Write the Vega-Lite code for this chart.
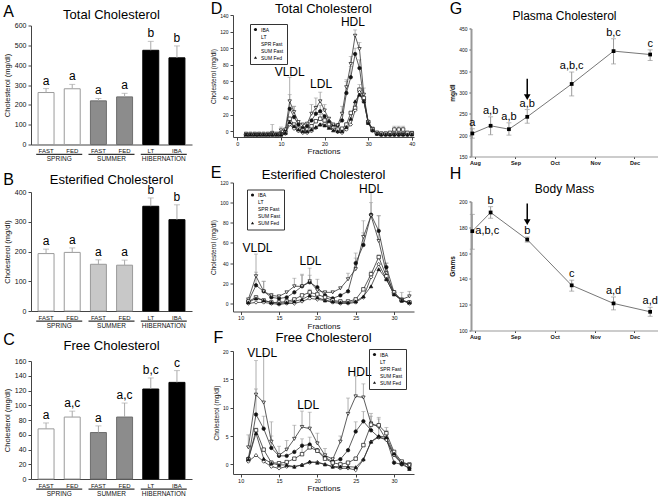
{
"$schema":"https://vega.github.io/schema/vega-lite/v6.json",
"padding":{"left":3,"top":0,"right":0,"bottom":0},
"config":{"font":"Liberation Sans","view":{"stroke":null},"title":{"fontWeight":"normal","color":"#000"},"text":{"color":"#000000"},
"axis":{"grid":false,"domainColor":"#444","tickColor":"#444","labelColor":"#111","titleColor":"#111","titleFontWeight":"normal","labelFontSize":7,"titleFontSize":7.5,"tickSize":3,"labelPadding":2,"titlePadding":3,"labelOverlap":false}},
"datasets":{
"A":[{"k":"SPRING-FAST","g":"SPRING","v":262,"h":282,"lab":"a"},{"k":"SPRING-FED","g":"SPRING","v":281,"h":303,"lab":"a"},{"k":"SUMMER-FAST","g":"SUMMER","v":220,"h":232,"lab":"a"},{"k":"SUMMER-FED","g":"SUMMER","v":240,"h":258,"lab":"a"},{"k":"HIBERNATION-LT","g":"HIBERNATION","v":475,"h":520,"lab":"b"},{"k":"HIBERNATION-IBA","g":"HIBERNATION","v":437,"h":497,"lab":"b"}],
"B":[{"k":"SPRING-FAST","g":"SPRING","v":193,"h":208,"lab":"a"},{"k":"SPRING-FED","g":"SPRING","v":197,"h":212,"lab":"a"},{"k":"SUMMER-FAST","g":"SUMMER","v":157,"h":172,"lab":"a"},{"k":"SUMMER-FED","g":"SUMMER","v":154,"h":171,"lab":"a"},{"k":"HIBERNATION-LT","g":"HIBERNATION","v":352,"h":380,"lab":"b"},{"k":"HIBERNATION-IBA","g":"HIBERNATION","v":307,"h":357,"lab":"b"}],
"C":[{"k":"SPRING-FAST","g":"SPRING","v":68,"h":76,"lab":"a"},{"k":"SPRING-FED","g":"SPRING","v":84,"h":92,"lab":"a,c"},{"k":"SUMMER-FAST","g":"SUMMER","v":63,"h":72,"lab":"a"},{"k":"SUMMER-FED","g":"SUMMER","v":84,"h":103,"lab":"a,c"},{"k":"HIBERNATION-LT","g":"HIBERNATION","v":122,"h":137,"lab":"b,c"},{"k":"HIBERNATION-IBA","g":"HIBERNATION","v":131,"h":147,"lab":"c"}],
"D":[
{"s":"IBA","f":2,"v":-4},{"s":"IBA","f":3,"v":-4},{"s":"IBA","f":4,"v":-4},{"s":"IBA","f":5,"v":-4},{"s":"IBA","f":6,"v":-4},{"s":"IBA","f":7,"v":-4},{"s":"IBA","f":8,"v":-3},{"s":"IBA","f":9,"v":-4},{"s":"IBA","f":10,"v":-3},{"s":"IBA","f":11,"v":0},{"s":"IBA","f":12,"v":27,"h":44},{"s":"IBA","f":13,"v":17,"h":30},{"s":"IBA","f":14,"v":8},{"s":"IBA","f":15,"v":4},{"s":"IBA","f":16,"v":6},{"s":"IBA","f":17,"v":13},{"s":"IBA","f":18,"v":21,"h":30},{"s":"IBA","f":19,"v":24,"h":31},{"s":"IBA","f":20,"v":18},{"s":"IBA","f":21,"v":11},{"s":"IBA","f":22,"v":6},{"s":"IBA","f":23,"v":7},{"s":"IBA","f":24,"v":13},{"s":"IBA","f":25,"v":46,"h":60},{"s":"IBA","f":26,"v":65,"h":78},{"s":"IBA","f":27,"v":93,"h":100},{"s":"IBA","f":28,"v":76,"h":86},{"s":"IBA","f":29,"v":38,"h":45},{"s":"IBA","f":30,"v":11},{"s":"IBA","f":31,"v":2},{"s":"IBA","f":32,"v":-3},{"s":"IBA","f":33,"v":-4},{"s":"IBA","f":34,"v":-4},{"s":"IBA","f":35,"v":-4},{"s":"IBA","f":36,"v":-4},{"s":"IBA","f":37,"v":-4},{"s":"IBA","f":38,"v":-4},{"s":"IBA","f":39,"v":-4},{"s":"IBA","f":40,"v":-3},
{"s":"LT","f":2,"v":-3},{"s":"LT","f":3,"v":-3},{"s":"LT","f":4,"v":-3},{"s":"LT","f":5,"v":-3},{"s":"LT","f":6,"v":-3},{"s":"LT","f":7,"v":-3},{"s":"LT","f":8,"v":-2,"h":8},{"s":"LT","f":9,"v":-3},{"s":"LT","f":10,"v":1,"h":5},{"s":"LT","f":11,"v":2},{"s":"LT","f":12,"v":36,"h":65},{"s":"LT","f":13,"v":23,"h":30},{"s":"LT","f":14,"v":11},{"s":"LT","f":15,"v":8},{"s":"LT","f":16,"v":9},{"s":"LT","f":17,"v":21,"h":32},{"s":"LT","f":18,"v":28,"h":40},{"s":"LT","f":19,"v":36,"h":47},{"s":"LT","f":20,"v":25,"h":32},{"s":"LT","f":21,"v":15},{"s":"LT","f":22,"v":8},{"s":"LT","f":23,"v":7},{"s":"LT","f":24,"v":21,"h":30},{"s":"LT","f":25,"v":53,"h":62},{"s":"LT","f":26,"v":81,"h":90},{"s":"LT","f":27,"v":115,"h":122},{"s":"LT","f":28,"v":99,"h":107},{"s":"LT","f":29,"v":44,"h":52},{"s":"LT","f":30,"v":11},{"s":"LT","f":31,"v":3},{"s":"LT","f":32,"v":-2},{"s":"LT","f":33,"v":-3},{"s":"LT","f":34,"v":-3},{"s":"LT","f":35,"v":-3},{"s":"LT","f":36,"v":-3},{"s":"LT","f":37,"v":-3},{"s":"LT","f":38,"v":-3},{"s":"LT","f":39,"v":-3},{"s":"LT","f":40,"v":-2},
{"s":"SPR Fast","f":2,"v":-5},{"s":"SPR Fast","f":3,"v":-5},{"s":"SPR Fast","f":4,"v":-5},{"s":"SPR Fast","f":5,"v":-5},{"s":"SPR Fast","f":6,"v":-5},{"s":"SPR Fast","f":7,"v":-5},{"s":"SPR Fast","f":8,"v":-4},{"s":"SPR Fast","f":9,"v":-5},{"s":"SPR Fast","f":10,"v":-4},{"s":"SPR Fast","f":11,"v":-2},{"s":"SPR Fast","f":12,"v":15},{"s":"SPR Fast","f":13,"v":8},{"s":"SPR Fast","f":14,"v":3},{"s":"SPR Fast","f":15,"v":1},{"s":"SPR Fast","f":16,"v":2},{"s":"SPR Fast","f":17,"v":6},{"s":"SPR Fast","f":18,"v":12},{"s":"SPR Fast","f":19,"v":15,"h":20},{"s":"SPR Fast","f":20,"v":13},{"s":"SPR Fast","f":21,"v":8},{"s":"SPR Fast","f":22,"v":4},{"s":"SPR Fast","f":23,"v":2},{"s":"SPR Fast","f":24,"v":3},{"s":"SPR Fast","f":25,"v":8},{"s":"SPR Fast","f":26,"v":22},{"s":"SPR Fast","f":27,"v":28},{"s":"SPR Fast","f":28,"v":50,"h":56},{"s":"SPR Fast","f":29,"v":40},{"s":"SPR Fast","f":30,"v":11},{"s":"SPR Fast","f":31,"v":2},{"s":"SPR Fast","f":32,"v":-2},{"s":"SPR Fast","f":33,"v":-3},{"s":"SPR Fast","f":34,"v":-3},{"s":"SPR Fast","f":35,"v":-2},{"s":"SPR Fast","f":36,"v":2,"h":6},{"s":"SPR Fast","f":37,"v":2,"h":6},{"s":"SPR Fast","f":38,"v":2,"h":6},{"s":"SPR Fast","f":39,"v":-2},{"s":"SPR Fast","f":40,"v":-3},
{"s":"SUM Fast","f":2,"v":-4},{"s":"SUM Fast","f":3,"v":-4},{"s":"SUM Fast","f":4,"v":-4},{"s":"SUM Fast","f":5,"v":-4},{"s":"SUM Fast","f":6,"v":-4},{"s":"SUM Fast","f":7,"v":-4},{"s":"SUM Fast","f":8,"v":-4},{"s":"SUM Fast","f":9,"v":-4},{"s":"SUM Fast","f":10,"v":-4},{"s":"SUM Fast","f":11,"v":-3},{"s":"SUM Fast","f":12,"v":8},{"s":"SUM Fast","f":13,"v":3},{"s":"SUM Fast","f":14,"v":0},{"s":"SUM Fast","f":15,"v":-2},{"s":"SUM Fast","f":16,"v":-2},{"s":"SUM Fast","f":17,"v":0},{"s":"SUM Fast","f":18,"v":4},{"s":"SUM Fast","f":19,"v":8},{"s":"SUM Fast","f":20,"v":9},{"s":"SUM Fast","f":21,"v":5},{"s":"SUM Fast","f":22,"v":2},{"s":"SUM Fast","f":23,"v":-1},{"s":"SUM Fast","f":24,"v":-2},{"s":"SUM Fast","f":25,"v":2},{"s":"SUM Fast","f":26,"v":8},{"s":"SUM Fast","f":27,"v":25},{"s":"SUM Fast","f":28,"v":47,"h":52},{"s":"SUM Fast","f":29,"v":36},{"s":"SUM Fast","f":30,"v":10},{"s":"SUM Fast","f":31,"v":1},{"s":"SUM Fast","f":32,"v":-3},{"s":"SUM Fast","f":33,"v":-4},{"s":"SUM Fast","f":34,"v":-4},{"s":"SUM Fast","f":35,"v":-4},{"s":"SUM Fast","f":36,"v":-4},{"s":"SUM Fast","f":37,"v":-4},{"s":"SUM Fast","f":38,"v":-4},{"s":"SUM Fast","f":39,"v":-4},{"s":"SUM Fast","f":40,"v":-4},
{"s":"SUM Fed","f":2,"v":-4},{"s":"SUM Fed","f":3,"v":-4},{"s":"SUM Fed","f":4,"v":-4},{"s":"SUM Fed","f":5,"v":-4},{"s":"SUM Fed","f":6,"v":-4},{"s":"SUM Fed","f":7,"v":-4},{"s":"SUM Fed","f":8,"v":-4},{"s":"SUM Fed","f":9,"v":-4},{"s":"SUM Fed","f":10,"v":-4},{"s":"SUM Fed","f":11,"v":-2},{"s":"SUM Fed","f":12,"v":11},{"s":"SUM Fed","f":13,"v":6},{"s":"SUM Fed","f":14,"v":2},{"s":"SUM Fed","f":15,"v":0},{"s":"SUM Fed","f":16,"v":0},{"s":"SUM Fed","f":17,"v":2},{"s":"SUM Fed","f":18,"v":5},{"s":"SUM Fed","f":19,"v":8},{"s":"SUM Fed","f":20,"v":7},{"s":"SUM Fed","f":21,"v":4},{"s":"SUM Fed","f":22,"v":1},{"s":"SUM Fed","f":23,"v":0},{"s":"SUM Fed","f":24,"v":0},{"s":"SUM Fed","f":25,"v":5},{"s":"SUM Fed","f":26,"v":15},{"s":"SUM Fed","f":27,"v":36},{"s":"SUM Fed","f":28,"v":44,"h":49},{"s":"SUM Fed","f":29,"v":36},{"s":"SUM Fed","f":30,"v":10},{"s":"SUM Fed","f":31,"v":1},{"s":"SUM Fed","f":32,"v":-3},{"s":"SUM Fed","f":33,"v":-4},{"s":"SUM Fed","f":34,"v":-4},{"s":"SUM Fed","f":35,"v":-4},{"s":"SUM Fed","f":36,"v":-4},{"s":"SUM Fed","f":37,"v":-4},{"s":"SUM Fed","f":38,"v":-4},{"s":"SUM Fed","f":39,"v":-4},{"s":"SUM Fed","f":40,"v":-4}],
"E":[
{"s":"IBA","f":11,"v":2},{"s":"IBA","f":12,"v":18,"h":31},{"s":"IBA","f":13,"v":12,"h":22},{"s":"IBA","f":14,"v":6},{"s":"IBA","f":15,"v":5},{"s":"IBA","f":16,"v":6},{"s":"IBA","f":17,"v":11},{"s":"IBA","f":18,"v":17,"h":28},{"s":"IBA","f":19,"v":21,"h":35},{"s":"IBA","f":20,"v":16},{"s":"IBA","f":21,"v":8},{"s":"IBA","f":22,"v":5},{"s":"IBA","f":23,"v":8},{"s":"IBA","f":24,"v":12},{"s":"IBA","f":25,"v":40,"h":50},{"s":"IBA","f":26,"v":58,"h":70},{"s":"IBA","f":27,"v":88,"h":100},{"s":"IBA","f":28,"v":72,"h":87},{"s":"IBA","f":29,"v":36,"h":40},{"s":"IBA","f":30,"v":11},{"s":"IBA","f":31,"v":3},{"s":"IBA","f":32,"v":1},
{"s":"LT","f":11,"v":4},{"s":"LT","f":12,"v":27,"h":49},{"s":"LT","f":13,"v":12,"h":22},{"s":"LT","f":14,"v":8,"h":10},{"s":"LT","f":15,"v":7},{"s":"LT","f":16,"v":11},{"s":"LT","f":17,"v":17,"h":25},{"s":"LT","f":18,"v":17,"h":29},{"s":"LT","f":19,"v":22,"h":28},{"s":"LT","f":20,"v":13,"h":24},{"s":"LT","f":21,"v":11},{"s":"LT","f":22,"v":11},{"s":"LT","f":23,"v":15},{"s":"LT","f":24,"v":24,"h":30},{"s":"LT","f":25,"v":34,"h":45},{"s":"LT","f":26,"v":66,"h":82},{"s":"LT","f":27,"v":87,"h":111},{"s":"LT","f":28,"v":62,"h":87},{"s":"LT","f":29,"v":30,"h":40},{"s":"LT","f":30,"v":9},{"s":"LT","f":31,"v":4,"h":11},{"s":"LT","f":32,"v":7,"h":12},
{"s":"SPR Fast","f":11,"v":2},{"s":"SPR Fast","f":12,"v":6},{"s":"SPR Fast","f":13,"v":3},{"s":"SPR Fast","f":14,"v":1},{"s":"SPR Fast","f":15,"v":1},{"s":"SPR Fast","f":16,"v":2},{"s":"SPR Fast","f":17,"v":4},{"s":"SPR Fast","f":18,"v":8},{"s":"SPR Fast","f":19,"v":11,"h":14},{"s":"SPR Fast","f":20,"v":9},{"s":"SPR Fast","f":21,"v":6},{"s":"SPR Fast","f":22,"v":3},{"s":"SPR Fast","f":23,"v":2},{"s":"SPR Fast","f":24,"v":2},{"s":"SPR Fast","f":25,"v":4},{"s":"SPR Fast","f":26,"v":14},{"s":"SPR Fast","f":27,"v":29,"h":32},{"s":"SPR Fast","f":28,"v":46,"h":48},{"s":"SPR Fast","f":29,"v":27},{"s":"SPR Fast","f":30,"v":11},{"s":"SPR Fast","f":31,"v":3},{"s":"SPR Fast","f":32,"v":1},
{"s":"SUM Fast","f":11,"v":0},{"s":"SUM Fast","f":12,"v":1},{"s":"SUM Fast","f":13,"v":1},{"s":"SUM Fast","f":14,"v":0},{"s":"SUM Fast","f":15,"v":-1},{"s":"SUM Fast","f":16,"v":0},{"s":"SUM Fast","f":17,"v":0},{"s":"SUM Fast","f":18,"v":2},{"s":"SUM Fast","f":19,"v":5},{"s":"SUM Fast","f":20,"v":4},{"s":"SUM Fast","f":21,"v":3},{"s":"SUM Fast","f":22,"v":1},{"s":"SUM Fast","f":23,"v":0},{"s":"SUM Fast","f":24,"v":0},{"s":"SUM Fast","f":25,"v":1},{"s":"SUM Fast","f":26,"v":6},{"s":"SUM Fast","f":27,"v":26},{"s":"SUM Fast","f":28,"v":39},{"s":"SUM Fast","f":29,"v":24},{"s":"SUM Fast","f":30,"v":9},{"s":"SUM Fast","f":31,"v":3},{"s":"SUM Fast","f":32,"v":0},
{"s":"SUM Fed","f":11,"v":1},{"s":"SUM Fed","f":12,"v":5},{"s":"SUM Fed","f":13,"v":3},{"s":"SUM Fed","f":14,"v":1},{"s":"SUM Fed","f":15,"v":0},{"s":"SUM Fed","f":16,"v":1},{"s":"SUM Fed","f":17,"v":2},{"s":"SUM Fed","f":18,"v":4},{"s":"SUM Fed","f":19,"v":8},{"s":"SUM Fed","f":20,"v":6},{"s":"SUM Fed","f":21,"v":3},{"s":"SUM Fed","f":22,"v":2},{"s":"SUM Fed","f":23,"v":1},{"s":"SUM Fed","f":24,"v":1},{"s":"SUM Fed","f":25,"v":2},{"s":"SUM Fed","f":26,"v":7},{"s":"SUM Fed","f":27,"v":17},{"s":"SUM Fed","f":28,"v":34},{"s":"SUM Fed","f":29,"v":24},{"s":"SUM Fed","f":30,"v":9},{"s":"SUM Fed","f":31,"v":3},{"s":"SUM Fed","f":32,"v":1}],
"F":[
{"s":"IBA","f":11,"v":1},{"s":"IBA","f":12,"v":8.8,"h":13.3},{"s":"IBA","f":13,"v":6.3,"h":8.5},{"s":"IBA","f":14,"v":2.9,"h":5},{"s":"IBA","f":15,"v":1.5},{"s":"IBA","f":16,"v":1.5},{"s":"IBA","f":17,"v":2.2},{"s":"IBA","f":18,"v":3.3},{"s":"IBA","f":19,"v":3.5},{"s":"IBA","f":20,"v":2.5},{"s":"IBA","f":21,"v":1.2},{"s":"IBA","f":22,"v":0.5},{"s":"IBA","f":23,"v":0.9},{"s":"IBA","f":24,"v":2.5},{"s":"IBA","f":25,"v":5.8,"h":7.5},{"s":"IBA","f":26,"v":7.6,"h":9.3},{"s":"IBA","f":27,"v":6,"h":7.5},{"s":"IBA","f":28,"v":4.8,"h":7},{"s":"IBA","f":29,"v":4.5},{"s":"IBA","f":30,"v":0.3},{"s":"IBA","f":31,"v":0},{"s":"IBA","f":32,"v":-0.7},
{"s":"LT","f":11,"v":3,"h":5.2},{"s":"LT","f":12,"v":12.3,"h":18.3},{"s":"LT","f":13,"v":10.9,"h":19.5},{"s":"LT","f":14,"v":4,"h":7.5},{"s":"LT","f":15,"v":1.6,"h":3.2},{"s":"LT","f":16,"v":2.6,"h":4.2},{"s":"LT","f":17,"v":4.5,"h":6.9},{"s":"LT","f":18,"v":6.6,"h":9.4},{"s":"LT","f":19,"v":6.3,"h":9.2},{"s":"LT","f":20,"v":3.7,"h":5.5},{"s":"LT","f":21,"v":1.6,"h":2.8},{"s":"LT","f":22,"v":0.9},{"s":"LT","f":23,"v":4,"h":5},{"s":"LT","f":24,"v":8.9,"h":11.7},{"s":"LT","f":25,"v":12,"h":15.5},{"s":"LT","f":26,"v":11.8,"h":14.2},{"s":"LT","f":27,"v":7.2,"h":9},{"s":"LT","f":28,"v":6.6,"h":8.3},{"s":"LT","f":29,"v":4.3,"h":6.5},{"s":"LT","f":30,"v":1.6},{"s":"LT","f":31,"v":0.2},{"s":"LT","f":32,"v":0},
{"s":"SPR Fast","f":11,"v":0.9},{"s":"SPR Fast","f":12,"v":6,"h":6.4},{"s":"SPR Fast","f":13,"v":2.6},{"s":"SPR Fast","f":14,"v":0.3},{"s":"SPR Fast","f":15,"v":0.2},{"s":"SPR Fast","f":16,"v":0.4},{"s":"SPR Fast","f":17,"v":1},{"s":"SPR Fast","f":18,"v":1.8,"h":4.5},{"s":"SPR Fast","f":19,"v":3,"h":4.8},{"s":"SPR Fast","f":20,"v":2.4},{"s":"SPR Fast","f":21,"v":1},{"s":"SPR Fast","f":22,"v":0.3},{"s":"SPR Fast","f":23,"v":0},{"s":"SPR Fast","f":24,"v":0.3},{"s":"SPR Fast","f":25,"v":1},{"s":"SPR Fast","f":26,"v":3.4},{"s":"SPR Fast","f":27,"v":7,"h":8.5},{"s":"SPR Fast","f":28,"v":6.9,"h":8},{"s":"SPR Fast","f":29,"v":5.5,"h":6},{"s":"SPR Fast","f":30,"v":2.2},{"s":"SPR Fast","f":31,"v":0.5},{"s":"SPR Fast","f":32,"v":-0.1},
{"s":"SUM Fast","f":11,"v":0.5},{"s":"SUM Fast","f":12,"v":1.6},{"s":"SUM Fast","f":13,"v":0.5},{"s":"SUM Fast","f":14,"v":-0.4},{"s":"SUM Fast","f":15,"v":-0.7},{"s":"SUM Fast","f":16,"v":-0.4},{"s":"SUM Fast","f":17,"v":-0.4},{"s":"SUM Fast","f":18,"v":-0.1},{"s":"SUM Fast","f":19,"v":0.3},{"s":"SUM Fast","f":20,"v":0.4},{"s":"SUM Fast","f":21,"v":0},{"s":"SUM Fast","f":22,"v":-0.4},{"s":"SUM Fast","f":23,"v":-0.7},{"s":"SUM Fast","f":24,"v":-0.7},{"s":"SUM Fast","f":25,"v":-1},{"s":"SUM Fast","f":26,"v":0.8},{"s":"SUM Fast","f":27,"v":4},{"s":"SUM Fast","f":28,"v":4.8},{"s":"SUM Fast","f":29,"v":4.3},{"s":"SUM Fast","f":30,"v":1.6},{"s":"SUM Fast","f":31,"v":0.2},{"s":"SUM Fast","f":32,"v":-0.1},
{"s":"SUM Fed","f":11,"v":0.9},{"s":"SUM Fed","f":12,"v":5.5,"h":6.3},{"s":"SUM Fed","f":13,"v":1},{"s":"SUM Fed","f":14,"v":0.2},{"s":"SUM Fed","f":15,"v":-0.1},{"s":"SUM Fed","f":16,"v":-0.1},{"s":"SUM Fed","f":17,"v":-0.4},{"s":"SUM Fed","f":18,"v":-0.1},{"s":"SUM Fed","f":19,"v":0.5},{"s":"SUM Fed","f":20,"v":0.3},{"s":"SUM Fed","f":21,"v":0},{"s":"SUM Fed","f":22,"v":-0.4},{"s":"SUM Fed","f":23,"v":-0.4},{"s":"SUM Fed","f":24,"v":-0.4},{"s":"SUM Fed","f":25,"v":-0.5},{"s":"SUM Fed","f":26,"v":0.9},{"s":"SUM Fed","f":27,"v":4},{"s":"SUM Fed","f":28,"v":5},{"s":"SUM Fed","f":29,"v":4.8},{"s":"SUM Fed","f":30,"v":1.9},{"s":"SUM Fed","f":31,"v":0.3},{"s":"SUM Fed","f":32,"v":-0.8}],
"G":[{"d":"2009-07-30","v":204,"lo":193,"hi":215,"lab":"a"},{"d":"2009-08-13","v":222,"lo":201,"hi":243,"lab":"a,b"},{"d":"2009-08-27","v":214,"lo":200,"hi":229,"lab":"a,b"},{"d":"2009-09-10","v":243,"lo":228,"hi":260,"lab":"a,b"},{"d":"2009-10-14","v":320,"lo":292,"hi":348,"lab":"a,b,c"},{"d":"2009-11-15","v":397,"lo":367,"hi":426,"lab":"b,c"},{"d":"2009-12-13","v":389,"lo":375,"hi":400,"lab":"c"}],
"H":[{"d":"2009-07-30","v":177,"lo":163,"hi":190,"lab":"a,b,c"},{"d":"2009-08-13","v":191.5,"lo":187,"hi":196,"lab":"b"},{"d":"2009-09-10","v":170.5,"lo":168.5,"hi":172.5,"lab":"b"},{"d":"2009-10-14","v":135,"lo":130.5,"hi":139,"lab":"c"},{"d":"2009-11-15","v":121,"lo":116,"hi":126,"lab":"a,d"},{"d":"2009-12-13","v":114.5,"lo":111,"hi":118,"lab":"a,d"}]
},
"resolve":{"scale":{"fill":"independent","stroke":"independent","shape":"independent"},"legend":{"fill":"independent","shape":"independent"}},
"spacing":34,
"hconcat":[
{"spacing":18,
 "resolve":{"scale":{"fill":"independent","stroke":"independent","shape":"independent"},"legend":{"fill":"independent","shape":"independent"}},
 "hconcat":[
 {"spacing":-12.5,
  "resolve":{"scale":{"fill":"independent","stroke":"independent"}},
  "vconcat":[
  {"width":161,"height":1,"data":{"values":[{"z":0}]},"mark":{"type":"point","opacity":0,"size":0},"encoding":{}},
  {"spacing":2.5,
   "resolve":{"scale":{"fill":"independent","stroke":"independent"}},
   "vconcat":[
   {"spacing":8.5,
    "resolve":{"scale":{"fill":"independent","stroke":"independent"}},
    "vconcat":[
  {"title":{"text":"A","anchor":"start","fontSize":16,"offset":-11,"frame":"bounds"},
   "vconcat":[{"width":161,"height":119,
    "title":{"text":"Total Cholesterol","fontSize":13,"offset":0},
    "resolve":{"scale":{"x":"independent"},"axis":{"x":"independent"}},
    "layer":[
     {"data":{"name":"A"},
      "encoding":{"x":{"field":"k","type":"nominal","sort":null,"scale":{"paddingInner":0.39,"paddingOuter":0.27},"axis":{"title":null,"labelExpr":"split(datum.value,'-')[1]","labelAngle":0,"ticks":false,"labelFontSize":6,"labelPadding":3}},
                  "y":{"field":"v","type":"quantitative","title":"Cholesterol (mg/dl)","scale":{"domain":[0,600],"nice":false},"axis":{"values":[0,100,200,300,400,500,600],"labelOverlap":false}}},
      "layer":[
       {"mark":{"type":"bar","strokeWidth":1},"encoding":{"fill":{"field":"g","type":"nominal","scale":{"domain":["SPRING","SUMMER","HIBERNATION"],"range":["#ffffff","#8c8c8c","#000000"]},"legend":null},"stroke":{"field":"g","type":"nominal","scale":{"domain":["SPRING","SUMMER","HIBERNATION"],"range":["#9a9a9a","#6e6e6e","#000000"]},"legend":null}}},
       {"mark":{"type":"rule","color":"#aaaaaa"},"encoding":{"y2":{"field":"h"}}},
       {"mark":{"type":"tick","orient":"horizontal","color":"#aaaaaa","size":6,"thickness":1},"encoding":{"y":{"field":"h","type":"quantitative","title":"Cholesterol (mg/dl)"}}},
       {"mark":{"type":"text","fontSize":12,"baseline":"bottom","dy":-1,"color":"#000000"},"encoding":{"y":{"field":"h","type":"quantitative","title":"Cholesterol (mg/dl)"},"text":{"field":"lab"}}}
      ]},
     {"data":{"values":[{"g":"SPRING"},{"g":"SUMMER"},{"g":"HIBERNATION"}]},
      "mark":{"type":"bar","color":"#333333"},
      "encoding":{"x":{"field":"g","type":"nominal","sort":null,"scale":{"paddingInner":0.12,"paddingOuter":0.1},"axis":{"orient":"bottom","title":null,"domain":false,"ticks":false,"labelAngle":0,"offset":9,"labelPadding":2,"labelFontSize":6.5,"labelColor":"#111111"}},
                  "y":{"datum":-47,"title":"Cholesterol (mg/dl)","scale":{"domain":[0,600],"nice":false},"axis":{"values":[0,100,200,300,400,500,600],"labelOverlap":false}},"y2":{"datum":-53}}}
    ]}]},
  {"title":{"text":"B","anchor":"start","fontSize":16,"offset":-14,"frame":"bounds"},
   "vconcat":[{"width":161,"height":119,
    "title":{"text":"Esterified Cholesterol","fontSize":13,"offset":-3},
    "resolve":{"scale":{"x":"independent"},"axis":{"x":"independent"}},
    "layer":[
     {"data":{"name":"B"},
      "encoding":{"x":{"field":"k","type":"nominal","sort":null,"scale":{"paddingInner":0.39,"paddingOuter":0.27},"axis":{"title":null,"labelExpr":"split(datum.value,'-')[1]","labelAngle":0,"ticks":false,"labelFontSize":6,"labelPadding":3}},
                  "y":{"field":"v","type":"quantitative","title":"Cholesterol (mg/dl)","scale":{"domain":[0,400],"nice":false},"axis":{"values":[0,100,200,300,400],"labelOverlap":false}}},
      "layer":[
       {"mark":{"type":"bar","strokeWidth":1},"encoding":{"fill":{"field":"g","type":"nominal","scale":{"domain":["SPRING","SUMMER","HIBERNATION"],"range":["#ffffff","#c8c8c8","#000000"]},"legend":null},"stroke":{"field":"g","type":"nominal","scale":{"domain":["SPRING","SUMMER","HIBERNATION"],"range":["#9a9a9a","#9a9a9a","#000000"]},"legend":null}}},
       {"mark":{"type":"rule","color":"#aaaaaa"},"encoding":{"y2":{"field":"h"}}},
       {"mark":{"type":"tick","orient":"horizontal","color":"#aaaaaa","size":6,"thickness":1},"encoding":{"y":{"field":"h","type":"quantitative","title":"Cholesterol (mg/dl)"}}},
       {"mark":{"type":"text","fontSize":12,"baseline":"bottom","dy":-1,"color":"#000000"},"encoding":{"y":{"field":"h","type":"quantitative","title":"Cholesterol (mg/dl)"},"text":{"field":"lab"}}}
      ]},
     {"data":{"values":[{"g":"SPRING"},{"g":"SUMMER"},{"g":"HIBERNATION"}]},
      "mark":{"type":"bar","color":"#333333"},
      "encoding":{"x":{"field":"g","type":"nominal","sort":null,"scale":{"paddingInner":0.12,"paddingOuter":0.1},"axis":{"orient":"bottom","title":null,"domain":false,"ticks":false,"labelAngle":0,"offset":9,"labelPadding":2,"labelFontSize":6.5,"labelColor":"#111111"}},
                  "y":{"datum":-32,"title":"Cholesterol (mg/dl)","scale":{"domain":[0,400],"nice":false},"axis":{"values":[0,100,200,300,400],"labelOverlap":false}},"y2":{"datum":-36}}}
    ]}]}
    ]},
  {"title":{"text":"C","anchor":"start","fontSize":16,"offset":-8,"frame":"bounds"},
   "vconcat":[{"width":161,"height":118,
    "title":{"text":"Free Cholesterol","fontSize":13,"offset":4},
    "resolve":{"scale":{"x":"independent"},"axis":{"x":"independent"}},
    "layer":[
     {"data":{"name":"C"},
      "encoding":{"x":{"field":"k","type":"nominal","sort":null,"scale":{"paddingInner":0.39,"paddingOuter":0.27},"axis":{"title":null,"labelExpr":"split(datum.value,'-')[1]","labelAngle":0,"ticks":false,"labelFontSize":6,"labelPadding":3}},
                  "y":{"field":"v","type":"quantitative","title":"Cholesterol (mg/dl)","scale":{"domain":[0,160],"nice":false},"axis":{"values":[0,20,40,60,80,100,120,140,160],"labelOverlap":false}}},
      "layer":[
       {"mark":{"type":"bar","strokeWidth":1},"encoding":{"fill":{"field":"g","type":"nominal","scale":{"domain":["SPRING","SUMMER","HIBERNATION"],"range":["#ffffff","#8c8c8c","#000000"]},"legend":null},"stroke":{"field":"g","type":"nominal","scale":{"domain":["SPRING","SUMMER","HIBERNATION"],"range":["#9a9a9a","#6e6e6e","#000000"]},"legend":null}}},
       {"mark":{"type":"rule","color":"#aaaaaa"},"encoding":{"y2":{"field":"h"}}},
       {"mark":{"type":"tick","orient":"horizontal","color":"#aaaaaa","size":6,"thickness":1},"encoding":{"y":{"field":"h","type":"quantitative","title":"Cholesterol (mg/dl)"}}},
       {"mark":{"type":"text","fontSize":12,"baseline":"bottom","dy":-1,"color":"#000000"},"encoding":{"y":{"field":"h","type":"quantitative","title":"Cholesterol (mg/dl)"},"text":{"field":"lab"}}}
      ]},
     {"data":{"values":[{"g":"SPRING"},{"g":"SUMMER"},{"g":"HIBERNATION"}]},
      "mark":{"type":"bar","color":"#333333"},
      "encoding":{"x":{"field":"g","type":"nominal","sort":null,"scale":{"paddingInner":0.12,"paddingOuter":0.1},"axis":{"orient":"bottom","title":null,"domain":false,"ticks":false,"labelAngle":0,"offset":9,"labelPadding":2,"labelFontSize":6.5,"labelColor":"#111111"}},
                  "y":{"datum":-13,"title":"Cholesterol (mg/dl)","scale":{"domain":[0,160],"nice":false},"axis":{"values":[0,20,40,60,80,100,120,140,160],"labelOverlap":false}},"y2":{"datum":-14.6}}}
    ]}]}
   ]}
  ]},
 {"spacing":0,
  "resolve":{"scale":{"fill":"independent","shape":"independent"},"legend":{"fill":"independent","shape":"independent"}},
  "vconcat":[
  {"spacing":8.5,
   "resolve":{"scale":{"fill":"independent","shape":"independent"},"legend":{"fill":"independent","shape":"independent"}},
   "vconcat":[
  {"title":{"text":"D","anchor":"start","fontSize":16,"offset":-14,"frame":"bounds"},
   "vconcat":[{"width":181,"height":122,
    "title":{"text":"Total Cholesterol","fontSize":13,"offset":-2.5},
    "data":{"name":"D"},
    "encoding":{"x":{"field":"f","type":"quantitative","scale":{"domain":[-1,40.5],"nice":false,"zero":false},"axis":{"values":[0,10,20,30,40],"title":"Fractions","labelFontSize":5.5,"titleFontSize":8,"titlePadding":1,"labelPadding":1}},
                "y":{"field":"v","type":"quantitative","title":"Cholesterol (mg/dl)","scale":{"domain":[-7,140],"nice":false,"zero":false},"axis":{"values":[0,20,40,60,80,100,120,140],"labelFontSize":5,"titleFontSize":6.5}}},
    "layer":[
     {"transform":[{"filter":"isValid(datum.h)"}],"mark":{"type":"rule","color":"#999999","strokeWidth":0.8},"encoding":{"y2":{"field":"h"}}},
     {"transform":[{"filter":"isValid(datum.h)"}],"mark":{"type":"tick","orient":"horizontal","color":"#999999","size":4,"thickness":0.8},"encoding":{"y":{"field":"h","type":"quantitative","title":"Cholesterol (mg/dl)"}}},
     {"mark":{"type":"line","color":"#333333","strokeWidth":0.8},"encoding":{"detail":{"field":"s","type":"nominal"}}},
     {"mark":{"type":"point","filled":true,"stroke":"#111111","strokeWidth":0.7,"size":12,"opacity":1},
      "encoding":{"shape":{"field":"s","type":"nominal","scale":{"domain":["IBA","LT","SPR Fast","SUM Fast","SUM Fed"],"range":["circle","triangle-down","square","diamond","triangle-up"]},"legend":{"title":null,"orient":"none","legendX":17,"legendY":9,"strokeColor":"#333333","padding":3,"labelFontSize":5,"symbolSize":10,"rowPadding":0,"symbolStrokeColor":"#111111","symbolStrokeWidth":0.7,"labelOffset":3}},
                  "fill":{"field":"s","type":"nominal","scale":{"domain":["IBA","LT","SPR Fast","SUM Fast","SUM Fed"],"range":["#111111","#ffffff","#ffffff","#ffffff","#111111"]},"legend":{"title":null,"orient":"none","legendX":17,"legendY":9,"strokeColor":"#333333","padding":3,"labelFontSize":5,"symbolSize":10,"rowPadding":0,"symbolStrokeColor":"#111111","symbolStrokeWidth":0.7,"labelOffset":3}}}},
     {"data":{"values":[{"f":12,"v":63,"t":"VLDL"},{"f":19.2,"v":49,"t":"LDL"},{"f":26.5,"v":123,"t":"HDL"}]},"mark":{"type":"text","fontSize":12,"baseline":"bottom","color":"#000000"},"encoding":{"text":{"field":"t"}}}
    ]}]},
  {"title":{"text":"E","anchor":"start","fontSize":16,"offset":-12,"frame":"bounds"},
   "vconcat":[{"width":181,"height":129,
    "title":{"text":"Esterified Cholesterol","fontSize":13,"offset":-1},
    "data":{"name":"E"},
    "encoding":{"x":{"field":"f","type":"quantitative","scale":{"domain":[9,32.6],"nice":false,"zero":false},"axis":{"values":[10,15,20,25,30],"title":"Fractions","labelFontSize":5.5,"titleFontSize":8,"titlePadding":1,"labelPadding":1}},
                "y":{"field":"v","type":"quantitative","title":"Cholesterol (mg/dl)","scale":{"domain":[-8,120],"nice":false,"zero":false},"axis":{"values":[0,20,40,60,80,100,120],"labelFontSize":5,"titleFontSize":6.5}}},
    "layer":[
     {"transform":[{"filter":"isValid(datum.h)"}],"mark":{"type":"rule","color":"#999999","strokeWidth":0.8},"encoding":{"y2":{"field":"h"}}},
     {"transform":[{"filter":"isValid(datum.h)"}],"mark":{"type":"tick","orient":"horizontal","color":"#999999","size":4,"thickness":0.8},"encoding":{"y":{"field":"h","type":"quantitative","title":"Cholesterol (mg/dl)"}}},
     {"mark":{"type":"line","color":"#333333","strokeWidth":0.8},"encoding":{"detail":{"field":"s","type":"nominal"}}},
     {"mark":{"type":"point","filled":true,"stroke":"#111111","strokeWidth":0.7,"size":12,"opacity":1},
      "encoding":{"shape":{"field":"s","type":"nominal","scale":{"domain":["IBA","LT","SPR Fast","SUM Fast","SUM Fed"],"range":["circle","triangle-down","square","diamond","triangle-up"]},"legend":{"title":null,"orient":"none","legendX":14,"legendY":7,"strokeColor":"#333333","padding":3,"labelFontSize":5,"symbolSize":10,"rowPadding":0,"symbolStrokeColor":"#111111","symbolStrokeWidth":0.7,"labelOffset":3}},
                  "fill":{"field":"s","type":"nominal","scale":{"domain":["IBA","LT","SPR Fast","SUM Fast","SUM Fed"],"range":["#111111","#ffffff","#ffffff","#ffffff","#111111"]},"legend":{"title":null,"orient":"none","legendX":14,"legendY":7,"strokeColor":"#333333","padding":3,"labelFontSize":5,"symbolSize":10,"rowPadding":0,"symbolStrokeColor":"#111111","symbolStrokeWidth":0.7,"labelOffset":3}}}},
     {"data":{"values":[{"f":12.2,"v":48,"t":"VLDL"},{"f":19.1,"v":35,"t":"LDL"},{"f":27,"v":107,"t":"HDL"}]},"mark":{"type":"text","fontSize":12,"baseline":"bottom","color":"#000000"},"encoding":{"text":{"field":"t"}}}
    ]}]}
   ]},
  {"title":{"text":"F","anchor":"start","fontSize":16,"offset":-14,"frame":"bounds"},
   "vconcat":[{"width":181,"height":123,
    "title":{"text":"Free Cholesterol","fontSize":13,"offset":2},
    "data":{"name":"F"},
    "encoding":{"x":{"field":"f","type":"quantitative","scale":{"domain":[9,32.6],"nice":false,"zero":false},"axis":{"values":[10,15,20,25,30],"title":"Fractions","labelFontSize":5.5,"titleFontSize":8,"titlePadding":1,"labelPadding":1}},
                "y":{"field":"v","type":"quantitative","title":"Cholesterol (mg/dl)","scale":{"domain":[-1.7,20],"nice":false,"zero":false},"axis":{"values":[0,5,10,15,20],"labelFontSize":5,"titleFontSize":6.5}}},
    "layer":[
     {"transform":[{"filter":"isValid(datum.h)"}],"mark":{"type":"rule","color":"#999999","strokeWidth":0.8},"encoding":{"y2":{"field":"h"}}},
     {"transform":[{"filter":"isValid(datum.h)"}],"mark":{"type":"tick","orient":"horizontal","color":"#999999","size":4,"thickness":0.8},"encoding":{"y":{"field":"h","type":"quantitative","title":"Cholesterol (mg/dl)"}}},
     {"mark":{"type":"line","color":"#333333","strokeWidth":0.8},"encoding":{"detail":{"field":"s","type":"nominal"}}},
     {"mark":{"type":"point","filled":true,"stroke":"#111111","strokeWidth":0.7,"size":12,"opacity":1},
      "encoding":{"shape":{"field":"s","type":"nominal","scale":{"domain":["IBA","LT","SPR Fast","SUM Fast","SUM Fed"],"range":["circle","triangle-down","square","diamond","triangle-up"]},"legend":{"title":null,"orient":"none","legendX":136,"legendY":-2,"strokeColor":"#333333","padding":3,"labelFontSize":5,"symbolSize":10,"rowPadding":0,"symbolStrokeColor":"#111111","symbolStrokeWidth":0.7,"labelOffset":3}},
                  "fill":{"field":"s","type":"nominal","scale":{"domain":["IBA","LT","SPR Fast","SUM Fast","SUM Fed"],"range":["#111111","#ffffff","#ffffff","#ffffff","#111111"]},"legend":{"title":null,"orient":"none","legendX":136,"legendY":-2,"strokeColor":"#333333","padding":3,"labelFontSize":5,"symbolSize":10,"rowPadding":0,"symbolStrokeColor":"#111111","symbolStrokeWidth":0.7,"labelOffset":3}}}},
     {"data":{"values":[{"f":12.8,"v":18.4,"t":"VLDL"},{"f":18.8,"v":9.3,"t":"LDL"},{"f":25.5,"v":15,"t":"HDL"}]},"mark":{"type":"text","fontSize":12,"baseline":"bottom","color":"#000000"},"encoding":{"text":{"field":"t"}}}
    ]}]}
  ]}
 ]},
{"spacing":-15.5,
 "vconcat":[
  {"width":187,"height":1,"data":{"values":[{"z":0}]},"mark":{"type":"point","opacity":0,"size":0},"encoding":{}},
  {"spacing":-1,
   "vconcat":[
  {"title":{"text":"G","anchor":"start","fontSize":16,"offset":-7,"frame":"bounds"},
   "vconcat":[{"width":187,"height":128,
    "title":{"text":"Plasma Cholesterol","fontSize":12,"offset":4},
    "data":{"name":"G"},
    "encoding":{"x":{"field":"d","type":"temporal","title":null,"scale":{"domain":[{"year":2009,"month":"Jul","date":29},{"year":2009,"month":"Dec","date":19}]},"axis":{"values":[{"year":2009,"month":"Aug","date":1},{"year":2009,"month":"Sep","date":1},{"year":2009,"month":"Oct","date":1},{"year":2009,"month":"Nov","date":1},{"year":2009,"month":"Dec","date":1}],"format":"%b","labelFontWeight":"bold","labelFontSize":5.5,"tickSize":2,"domainColor":"#999999"}},
                "y":{"field":"v","type":"quantitative","title":"mg/dl","scale":{"domain":[150,450],"nice":false,"zero":false},"axis":{"values":[150,200,250,300,350,400,450],"titleFontWeight":"bold","labelFontSize":5,"titleFontSize":6.5,"tickSize":2,"domainColor":"#999999","domainWidth":2}}},
    "layer":[
     {"mark":{"type":"rule","color":"#999999"},"encoding":{"y":{"field":"lo","type":"quantitative","title":"mg/dl"},"y2":{"field":"hi"}}},
     {"mark":{"type":"tick","orient":"horizontal","color":"#999999","size":5,"thickness":1},"encoding":{"y":{"field":"lo","type":"quantitative","title":"mg/dl"}}},
     {"mark":{"type":"tick","orient":"horizontal","color":"#999999","size":5,"thickness":1},"encoding":{"y":{"field":"hi","type":"quantitative","title":"mg/dl"}}},
     {"mark":{"type":"line","color":"#777777","strokeWidth":1},"encoding":{}},
     {"mark":{"type":"point","shape":"square","filled":true,"color":"#000000","size":14,"opacity":1},"encoding":{}},
     {"mark":{"type":"text","fontSize":11,"baseline":"bottom","dy":-1,"color":"#000000"},"encoding":{"y":{"field":"hi","type":"quantitative","title":"mg/dl"},"text":{"field":"lab"}}},
     {"data":{"values":[{"d":"2009-09-10","a":332,"b":291}]},"mark":{"type":"rule","color":"#000000","strokeWidth":1.5},"encoding":{"y":{"field":"a","type":"quantitative","title":"mg/dl"},"y2":{"field":"b"}}},
     {"data":{"values":[{"d":"2009-09-10","b":289}]},"mark":{"type":"point","shape":"triangle-down","filled":true,"color":"#000000","size":45,"opacity":1},"encoding":{"y":{"field":"b","type":"quantitative","title":"mg/dl"}}}
    ]}]},
  {"title":{"text":"H","anchor":"start","fontSize":16,"offset":1,"frame":"bounds"},
   "vconcat":[{"width":187,"height":129,
    "title":{"text":"Body Mass","fontSize":12,"offset":-1.8},
    "data":{"name":"H"},
    "encoding":{"x":{"field":"d","type":"temporal","title":null,"scale":{"domain":[{"year":2009,"month":"Jul","date":29},{"year":2009,"month":"Dec","date":19}]},"axis":{"values":[{"year":2009,"month":"Aug","date":1},{"year":2009,"month":"Sep","date":1},{"year":2009,"month":"Oct","date":1},{"year":2009,"month":"Nov","date":1},{"year":2009,"month":"Dec","date":1}],"format":"%b","labelFontWeight":"bold","labelFontSize":5.5,"tickSize":2,"domainColor":"#999999"}},
                "y":{"field":"v","type":"quantitative","title":"Grams","scale":{"domain":[100,200],"nice":false,"zero":false},"axis":{"values":[100,120,140,160,180,200],"titleFontWeight":"bold","labelFontSize":5,"titleFontSize":6.5,"tickSize":2,"domainColor":"#999999","domainWidth":2}}},
    "layer":[
     {"mark":{"type":"rule","color":"#999999"},"encoding":{"y":{"field":"lo","type":"quantitative","title":"Grams"},"y2":{"field":"hi"}}},
     {"mark":{"type":"tick","orient":"horizontal","color":"#999999","size":5,"thickness":1},"encoding":{"y":{"field":"lo","type":"quantitative","title":"Grams"}}},
     {"mark":{"type":"tick","orient":"horizontal","color":"#999999","size":5,"thickness":1},"encoding":{"y":{"field":"hi","type":"quantitative","title":"Grams"}}},
     {"mark":{"type":"line","color":"#777777","strokeWidth":1},"encoding":{}},
     {"mark":{"type":"point","shape":"square","filled":true,"color":"#000000","size":14,"opacity":1},"encoding":{}},
     {"transform":[{"filter":"datum.lab != 'a,b,c'"}],"mark":{"type":"text","fontSize":11,"baseline":"bottom","dy":-1,"color":"#000000"},"encoding":{"y":{"field":"hi","type":"quantitative","title":"Grams"},"text":{"field":"lab"}}},
     {"transform":[{"filter":"datum.lab == 'a,b,c'"}],"mark":{"type":"text","fontSize":11,"baseline":"middle","align":"left","dx":3,"color":"#000000"},"encoding":{"text":{"field":"lab"}}},
     {"data":{"values":[{"d":"2009-09-10","a":198.5,"b":185}]},"mark":{"type":"rule","color":"#000000","strokeWidth":1.5},"encoding":{"y":{"field":"a","type":"quantitative","title":"Grams"},"y2":{"field":"b"}}},
     {"data":{"values":[{"d":"2009-09-10","b":184}]},"mark":{"type":"point","shape":"triangle-down","filled":true,"color":"#000000","size":45,"opacity":1},"encoding":{"y":{"field":"b","type":"quantitative","title":"Grams"}}}
    ]}]}
   ]}
 ]}
]
}
